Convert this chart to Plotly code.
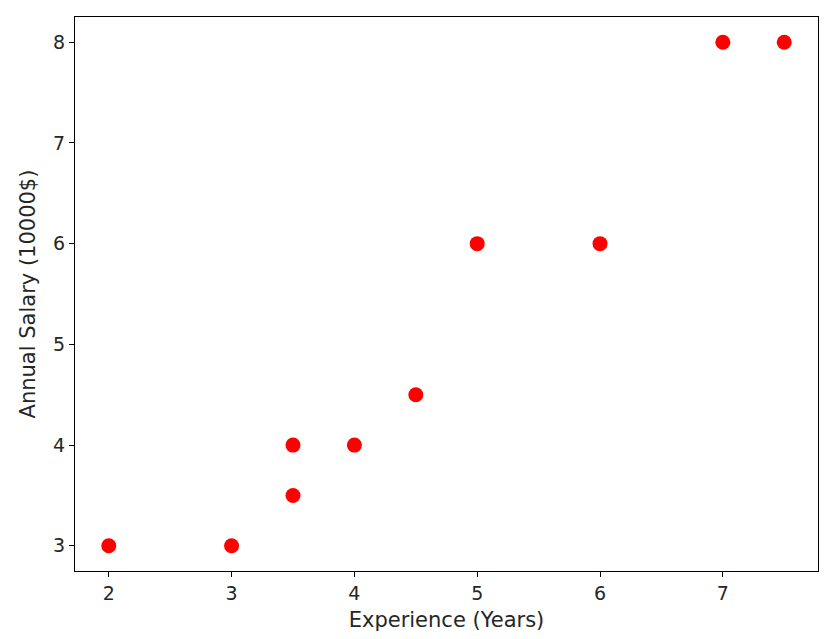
import plotly.graph_objects as go

# experience (years) vs annual salary (10000$)
experience = [2, 3, 3.5, 3.5, 4, 4.5, 5, 6, 7, 7.5]
salary = [3, 3, 3.5, 4, 4, 4.5, 6, 6, 8, 8]

x_ticks = [2, 3, 4, 5, 6, 7]
y_ticks = [3, 4, 5, 6, 7, 8]

fig = go.Figure()
fig.add_trace(go.Scatter(
    x=experience,
    y=salary,
    mode='markers',
    marker=dict(color='red', size=15, line=dict(width=0)),
    showlegend=False,
))

axis_style = dict(
    showgrid=False,
    zeroline=False,
    showline=True,
    linecolor='black',
    linewidth=1.3,
    mirror=True,
    ticks='outside',
    ticklen=5,
    tickwidth=1.2,
    tickcolor='black',
    tickfont=dict(size=19, color='#262626'),
)

fig.update_xaxes(range=[1.725, 7.775], tickvals=x_ticks,
                 title=dict(text='Experience (Years)', font=dict(size=21, color='#262626'), standoff=9),
                 **axis_style)
fig.update_yaxes(range=[2.75, 8.25], tickvals=y_ticks,
                 title=dict(text='Annual Salary (10000$)', font=dict(size=21, color='#262626'), standoff=11),
                 **axis_style)

# page body has an 8px margin, so the margins are shifted to line up with the reference
fig.update_layout(
    width=840, height=639,
    margin=dict(l=67, r=30, t=9, b=76),
    plot_bgcolor='white',
    paper_bgcolor='white',
    font=dict(family='DejaVu Sans'),
)

fig.write_html("out.html")
